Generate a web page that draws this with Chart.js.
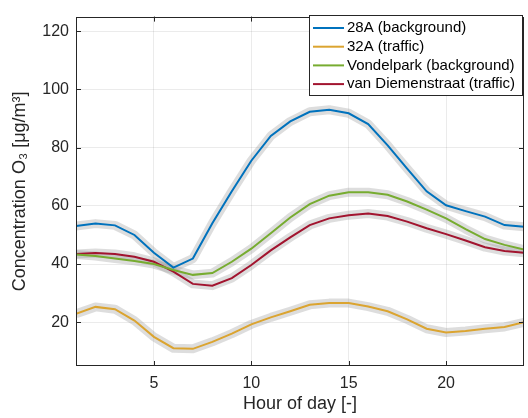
<!DOCTYPE html>
<html>
<head>
<meta charset="utf-8">
<script src="https://cdn.jsdelivr.net/npm/chart.js@4/dist/chart.umd.min.js"></script>
<style>
  html, body { margin: 0; padding: 0; background: #fff; }
  #wrap { width: 528px; height: 418px; }
</style>
</head>
<body>
<div id="wrap"><canvas id="chart" width="528" height="418"></canvas></div>
<script>
const HOURS = [1, 2, 3, 4, 5, 6, 7, 8, 9, 10, 11, 12, 13, 14, 15, 16, 17, 18, 19, 20, 21, 22, 23, 24];
const SITE_28A = [53.1, 53.9, 53.3, 50.0, 43.9, 38.8, 41.9, 54.0, 65.0, 75.5, 84.0, 89.0, 92.3, 93.0, 91.8, 88.1, 80.8, 72.8, 65.0, 60.2, 58.2, 56.3, 53.4, 52.8];
const SITE_32A = [22.9, 25.3, 24.5, 20.6, 15.0, 11.1, 10.9, 13.3, 16.1, 19.3, 21.7, 23.8, 26.0, 26.6, 26.6, 25.4, 23.8, 21.0, 17.8, 16.5, 17.0, 17.8, 18.4, 20.0];
const VONDELPARK = [43.3, 42.8, 41.9, 41.1, 40.0, 38.0, 36.3, 36.9, 40.8, 45.3, 50.6, 56.0, 60.6, 63.5, 64.7, 64.7, 63.8, 61.5, 58.7, 55.7, 52.0, 48.6, 46.6, 45.0];
const VAN_DIEMEN = [43.5, 43.8, 43.5, 42.5, 40.8, 37.4, 33.2, 32.6, 35.2, 39.7, 44.7, 49.2, 53.4, 55.7, 56.8, 57.4, 56.5, 54.6, 52.3, 50.3, 48.1, 45.8, 44.5, 43.9];

const SERIES = [
  { label: '28A (background)', values: SITE_28A, color: '#0072BD' },
  { label: '32A (traffic)', values: SITE_32A, color: '#DBA430' },
  { label: 'Vondelpark (background)', values: VONDELPARK, color: '#77AC30' },
  { label: 'van Diemenstraat (traffic)', values: VAN_DIEMEN, color: '#A2142F' },
];
const X_TICKS = [5, 10, 15, 20];
const Y_TICKS = [20, 40, 60, 80, 100, 120];

const FONT = 'Helvetica, "Liberation Sans", Arial, sans-serif';
const toPoints = (vals) => vals.map((v, i) => ({ x: HOURS[i], y: v }));

const datasets = [];
SERIES.forEach((s) => {
  datasets.push({
    label: s.label, data: toPoints(s.values), borderColor: s.color,
    borderWidth: 2, pointRadius: 0, tension: 0, order: 0,
  });
});
SERIES.forEach((s) => {
  datasets.push({
    label: s.label + ' band', data: toPoints(s.values), borderColor: 'rgba(150,150,150,0.32)',
    borderWidth: 9, pointRadius: 0, tension: 0, order: 1, borderJoinStyle: 'round', borderCapStyle: 'butt',
  });
});

// box, inner ticks and legend drawn MATLAB style
const boxPlugin = {
  id: 'box',
  afterDraw(chart) {
    const { ctx, chartArea: a, scales } = chart;
    ctx.save();
    ctx.strokeStyle = '#262626';
    ctx.lineWidth = 1;
    ctx.beginPath();
    X_TICKS.forEach((t) => {
      const px = Math.round(scales.x.getPixelForValue(t)) + 0.5;
      ctx.moveTo(px, a.bottom); ctx.lineTo(px, a.bottom - 5);
      ctx.moveTo(px, a.top); ctx.lineTo(px, a.top + 5);
    });
    Y_TICKS.forEach((t) => {
      const py = Math.round(scales.y.getPixelForValue(t)) + 0.5;
      ctx.moveTo(a.left, py); ctx.lineTo(a.left + 5, py);
      ctx.moveTo(a.right, py); ctx.lineTo(a.right - 5, py);
    });
    ctx.stroke();
    ctx.strokeRect(Math.round(a.left) + 0.5, Math.round(a.top) + 0.5,
      Math.round(a.right - a.left) - 1, Math.round(a.bottom - a.top) - 1);

    // legend
    const lx = 309, ly = 15, lw = 213, lh = 80;
    ctx.fillStyle = '#fff';
    ctx.fillRect(lx, ly, lw, lh);
    ctx.strokeStyle = '#262626';
    ctx.strokeRect(lx + 0.5, ly + 0.5, lw, lh);
    ctx.font = '15px ' + FONT;
    ctx.textBaseline = 'middle';
    ctx.fillStyle = '#000';
    SERIES.forEach((s, i) => {
      const y = 28 + i * 18.7;
      ctx.strokeStyle = s.color;
      ctx.lineWidth = 2;
      ctx.beginPath(); ctx.moveTo(313, y); ctx.lineTo(344, y); ctx.stroke();
      ctx.fillText(s.label, 347, y);
    });
    ctx.restore();
  },
};

new Chart(document.getElementById('chart'), {
  type: 'line',
  data: { datasets },
  plugins: [boxPlugin],
  options: {
    responsive: false,
    animation: false,
    layout: { padding: { top: 8, right: 4, left: 0, bottom: 0 } },
    plugins: { legend: { display: false }, tooltip: { enabled: false } },
    scales: {
      x: {
        type: 'linear', min: 1, max: 24,
        afterBuildTicks: (s) => { s.ticks = X_TICKS.map((v) => ({ value: v })); },
        afterFit: (s) => { s.height = 52; },
        grid: { color: 'rgba(0,0,0,0.08)', drawTicks: false },
        border: { display: false },
        ticks: { color: '#262626', font: { size: 16, family: FONT }, padding: 8, maxRotation: 0 },
        title: { display: true, text: 'Hour of day [-]', color: '#262626', font: { size: 18, family: FONT }, padding: { top: 0, bottom: 3 } },
      },
      y: {
        min: 5, max: 125,
        afterBuildTicks: (s) => { s.ticks = Y_TICKS.map((v) => ({ value: v })); },
        afterFit: (s) => { s.width = 76; },
        grid: { color: 'rgba(0,0,0,0.08)', drawTicks: false },
        border: { display: false },
        ticks: { color: '#262626', font: { size: 16, family: FONT }, padding: 7 },
        title: { display: true, text: 'Concentration O\u2083 [\u03bcg/m\u00b3]', color: '#262626', font: { size: 18, family: FONT }, padding: { top: 9, bottom: 0 } },
      },
    },
  },
});
</script>
</body>
</html>
